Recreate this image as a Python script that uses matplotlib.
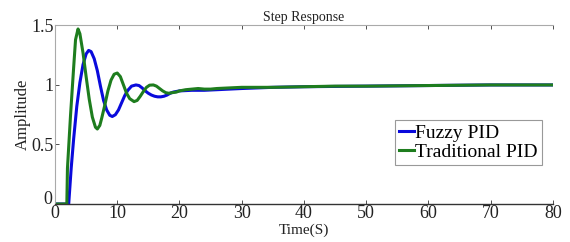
import matplotlib
matplotlib.use("Agg")
import matplotlib.pyplot as plt
import matplotlib.transforms as mtransforms

plt.rcParams['font.family'] = ['Liberation Serif', 'DejaVu Serif']

title = "Step Response"
xlabel = "Time(S)"
ylabel = "Amplitude"
series_names = ["Fuzzy PID", "Traditional PID"]

fuzzy_t = [0, 2.2, 2.6, 3.0, 3.5, 4.0, 4.5, 5.0, 5.4, 5.8, 6.3, 6.8, 7.3, 7.8, 8.3, 8.8, 9.2, 9.7,
           10.2, 10.7, 11.2, 11.7, 12.3, 13.0, 13.5, 14.0, 14.5, 15.0, 15.5, 16.0, 16.5, 17.0,
           17.5, 18.0, 18.5, 19.0, 20, 22, 24, 26, 28, 30, 35, 40, 50, 60, 70, 80]
fuzzy_y = [0, 0, 0.3, 0.55, 0.82, 1.02, 1.17, 1.26, 1.29, 1.28, 1.22, 1.12, 0.99, 0.87, 0.79, 0.745, 0.735, 0.75,
           0.79, 0.85, 0.91, 0.955, 0.99, 1.0, 0.995, 0.975, 0.95, 0.93, 0.915, 0.905, 0.9, 0.9,
           0.905, 0.915, 0.93, 0.94, 0.95, 0.955, 0.955, 0.96, 0.965, 0.97, 0.98, 0.985, 0.99, 0.995, 1.0, 1.0]

trad_t = [0, 1.9, 2.0, 2.5, 3.0, 3.3, 3.7, 4.0, 4.5, 5.0, 5.5, 6.0, 6.5, 6.8, 7.2, 7.5, 8.0, 8.5, 9.0,
          9.5, 10.0, 10.5, 11.0, 11.5, 12.0, 12.7, 13.2, 13.7, 14.2, 14.7, 15.2, 15.8, 16.3, 16.8,
          17.3, 17.8, 18.3, 18.8, 19.5, 20, 21, 22, 23, 24, 25, 26, 28, 30, 35, 40, 45, 50, 60, 70, 80]
trad_y = [0, 0, 0.3, 0.75, 1.15, 1.38, 1.47, 1.43, 1.27, 1.07, 0.88, 0.73, 0.645, 0.63, 0.66, 0.72, 0.83, 0.95, 1.04,
          1.09, 1.10, 1.07, 1.0, 0.93, 0.885, 0.86, 0.87, 0.905, 0.945, 0.98, 0.998, 1.0, 0.99, 0.97,
          0.95, 0.935, 0.93, 0.935, 0.94, 0.95, 0.96, 0.965, 0.97, 0.965, 0.965, 0.97, 0.975, 0.98, 0.98, 0.985, 0.99, 0.99, 0.995, 1.0, 1.0]

fig = plt.figure(figsize=(5.7, 2.42), dpi=100)
ax = fig.add_axes([0.0965, 0.157, 0.8735, 0.738])

ax.plot(fuzzy_t, fuzzy_y, color='#0a0adc', lw=2.2, label=series_names[0])
ax.plot(trad_t, trad_y, color='#1e7d1e', lw=2.2, label=series_names[1])

ax.set_xlim(0, 80)
ax.set_ylim(0, 1.5)
ax.set_xticks([0, 10, 20, 30, 40, 50, 60, 70, 80])
ax.set_yticks([0, 0.5, 1, 1.5])
ax.set_yticklabels(['0', '0.5', '1', '1.5'])

ax.tick_params(direction='in', length=3, width=0.6, labelsize=13, top=True, pad=1,
               colors='#333333', labelcolor='#222222')
ax.tick_params(axis='y', pad=1)

# raise the y "0" label slightly, as in the reference
yl0 = ax.get_yticklabels()[0]
yl0.set_transform(yl0.get_transform() + mtransforms.ScaledTranslation(-1 / 72, 5 / 72, fig.dpi_scale_trans))

ax.spines['right'].set_visible(False)
ax.spines['top'].set_color('#aaaaaa')
ax.spines['top'].set_linewidth(0.8)
ax.spines['left'].set_color('#aaaaaa')
ax.spines['left'].set_linewidth(0.8)
ax.spines['bottom'].set_color('#333333')
ax.spines['bottom'].set_linewidth(1.0)

ax.set_title(title, fontsize=10, pad=3, color='#222222')
ax.set_xlabel(xlabel, fontsize=11, labelpad=0.5, color='#222222')
ax.set_ylabel(ylabel, fontsize=12, labelpad=0, color='#222222')

leg = ax.legend(loc='upper left', bbox_to_anchor=(0.683, 0.47), fontsize=14,
                handlelength=0.75, handletextpad=0.1, borderpad=0.2, labelspacing=0.1,
                fancybox=False, framealpha=1, edgecolor='#999999', borderaxespad=0)
leg.get_frame().set_linewidth(0.8)

fig.savefig('out.png', dpi=100)
